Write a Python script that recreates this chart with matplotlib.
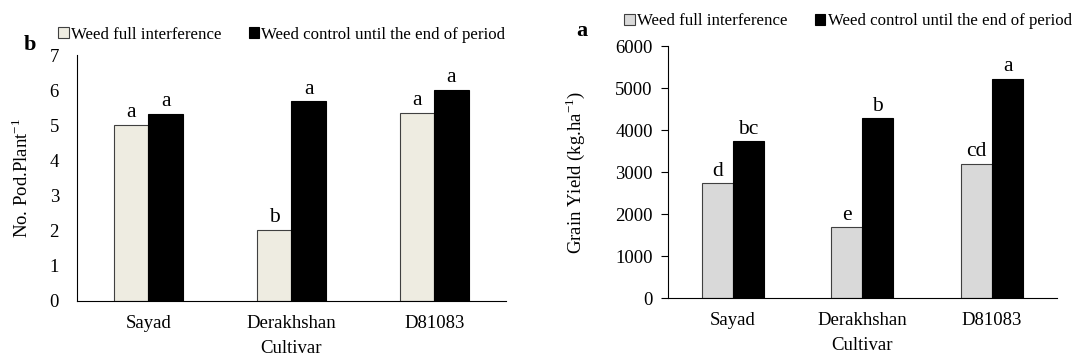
import matplotlib.pyplot as plt
import numpy as np

plt.rcParams['font.family'] = ['Liberation Serif', 'DejaVu Serif']
plt.rcParams['mathtext.fontset'] = 'custom'
plt.rcParams['mathtext.rm'] = 'Liberation Serif'

# dados
cultivares = ['Sayad', 'Derakhshan', 'D81083']
series = ['Weed full interference', 'Weed control until the end of period']

vagens_inter = [5.02, 2.02, 5.36]
vagens_ctrl = [5.32, 5.68, 6.02]
letras_vagens_inter = ['a', 'b', 'a']
letras_vagens_ctrl = ['a', 'a', 'a']

prod_inter = [2730, 1690, 3200]
prod_ctrl = [3730, 4280, 5220]
letras_prod_inter = ['d', 'e', 'cd']
letras_prod_ctrl = ['bc', 'b', 'a']

fig = plt.figure(figsize=(10.8, 3.6), dpi=100)
ax1 = fig.add_axes([0.0713, 0.164, 0.397, 0.683])
ax2 = fig.add_axes([0.6185, 0.172, 0.360, 0.700])

x = np.arange(len(cultivares))
w = 0.24


def grafico(ax, v1, v2, l1, l2, cor1, ymax, passo, ylabel, off):
    b1 = ax.bar(x - w / 2, v1, w, color=cor1, edgecolor='#404040', linewidth=0.8, label=series[0])
    b2 = ax.bar(x + w / 2, v2, w, color='black', edgecolor='black', linewidth=0.8, label=series[1])
    for xi, v, l in zip(x - w / 2, v1, l1):
        ax.text(xi, v + off, l, ha='center', va='bottom', fontsize=15.5)
    for xi, v, l in zip(x + w / 2, v2, l2):
        ax.text(xi, v + off, l, ha='center', va='bottom', fontsize=15.5)
    ax.set_xlim(-0.5, 2.5)
    ax.set_ylim(0, ymax)
    ax.set_yticks(np.arange(0, ymax + passo, passo))
    ax.set_xticks(x)
    ax.set_xticklabels(cultivares)
    ax.spines['top'].set_visible(False)
    ax.spines['right'].set_visible(False)
    ax.spines['left'].set_linewidth(0.8)
    ax.spines['bottom'].set_linewidth(0.8)
    ax.tick_params(axis='x', length=0, labelsize=13.5, pad=10)
    ax.tick_params(axis='y', labelsize=13.5)
    ax.set_xlabel('Cultivar', fontsize=13.5, labelpad=6)
    ax.set_ylabel(ylabel, fontsize=13.5)
    return b1, b2


grafico(ax1, vagens_inter, vagens_ctrl, letras_vagens_inter, letras_vagens_ctrl,
        '#EEECE1', 7, 1, r'No. Pod.Plant$^{\mathregular{-1}}$', 0.08)
ax1.tick_params(axis='y', length=0, pad=13)
ax1.yaxis.labelpad = 13

grafico(ax2, prod_inter, prod_ctrl, letras_prod_inter, letras_prod_ctrl,
        '#D9D9D9', 6000, 1000, r'Grain Yield (kg.ha$^{\mathregular{-1}}$)', 60)
ax2.tick_params(axis='y', length=5, direction='out', pad=6)
ax2.yaxis.labelpad = 20

ax1.legend(ncol=2, frameon=False, fontsize=12.2, loc='center', bbox_to_anchor=(0.478, 1.083),
           handlelength=0.6, handleheight=0.6, handletextpad=0.15, columnspacing=1.6)
ax2.legend(ncol=2, frameon=False, fontsize=12.2, loc='center', bbox_to_anchor=(0.463, 1.098),
           handlelength=0.6, handleheight=0.6, handletextpad=0.15, columnspacing=1.6)

fig.text(30 / 1080, 1 - 45 / 360, 'b', fontsize=16, fontweight='bold', ha='center', va='center')
fig.text(582 / 1080, 1 - 31 / 360, 'a', fontsize=16, fontweight='bold', ha='center', va='center')

plt.savefig('out.png', dpi=100)
